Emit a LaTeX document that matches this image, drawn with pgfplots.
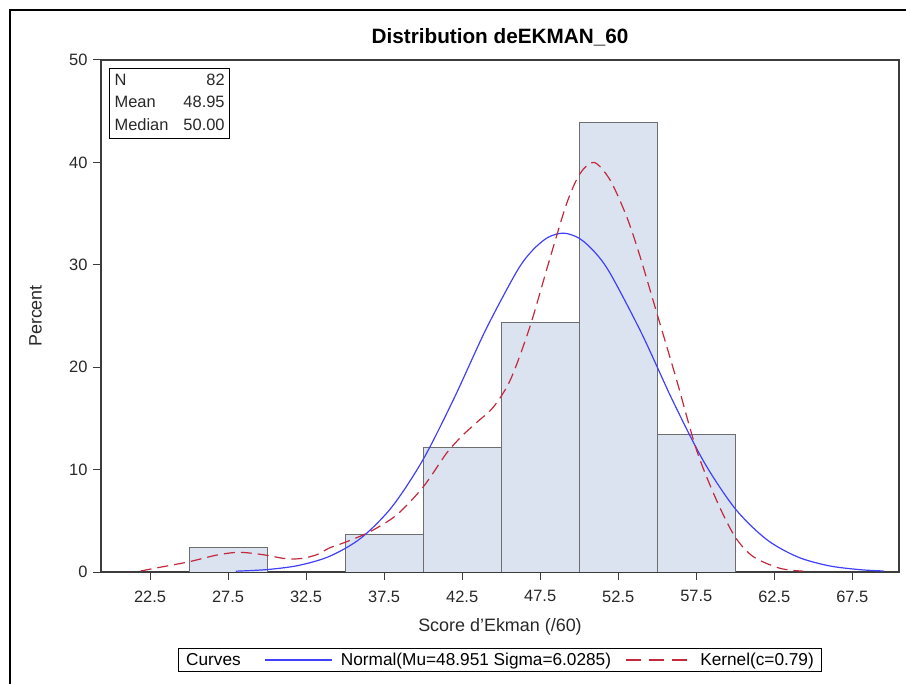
\documentclass[border=0pt]{standalone}
\usepackage{fontspec}
\setmainfont{Liberation Sans}
\usepackage{pgfplots}
\pgfplotsset{compat=1.18}

\definecolor{barfill}{RGB}{219,227,240}
\definecolor{baredge}{RGB}{110,110,110}
\definecolor{normblue}{RGB}{64,64,250}
\definecolor{kernred}{RGB}{195,40,60}
\definecolor{axgray}{RGB}{60,60,60}
\definecolor{txtgray}{RGB}{40,40,40}

\pgfplotsset{
  legline/.style={legend image code/.code={\draw[##1] (0bp,0bp) -- (#1,0bp);}},
}

\begin{document}
\begin{tikzpicture}
\begin{axis}[
  at={(101bp,112bp)}, anchor=south west,
  scale only axis, width=798bp, height=512bp,
  xmin=19.36, xmax=70.49, ymin=0, ymax=50,
  xtick={22.5,27.5,32.5,37.5,42.5,47.5,52.5,57.5,62.5,67.5},
  ytick={0,10,20,30,40,50},
  xtick pos=bottom, ytick pos=left,
  tick align=outside, major tick length=8bp,
  axis line style={draw=axgray, line width=1.2bp},
  tick style={draw=axgray, line width=1bp},
  /pgf/number format/assume math mode=true,
  ticklabel style={font=\fontsize{16.5}{19}\selectfont, text=txtgray},
  xticklabel style={yshift=-7bp},
  yticklabel style={xshift=-2bp},
  title={Distribution deEKMAN\_60},
  title style={at={(axis description cs:0.5,1.0215)}, anchor=base,
    font=\bfseries\fontsize{20.8}{24}\selectfont},
  xlabel={Score d'Ekman (/60)},
  xlabel style={at={(axis description cs:0.5,-0.1074)}, anchor=center,
    font=\fontsize{18}{21}\selectfont, text=txtgray},
  ylabel={Percent},
  ylabel style={at={(axis description cs:-0.0821,0.5)}, anchor=center,
    font=\fontsize{18}{21}\selectfont, text=txtgray},
  legend columns=-1,
  legend style={at={(axis description cs:0.5,-0.1719)}, anchor=center,
    draw=black, line width=1.2bp, inner xsep=6bp, inner ysep=2.5bp,
    font=\fontsize{17.3}{19}\selectfont},
  legend cell align=left,
]
% histogram (percent of 82 obs)
\addplot[ybar interval, fill=barfill, draw=baredge, line width=1bp, forget plot]
  coordinates {(25,2.439) (30,2.439)};
\addplot[ybar interval, fill=barfill, draw=baredge, line width=1bp, forget plot]
  coordinates {(35,3.659) (40,12.195) (45,24.390) (50,43.902) (55,13.415) (60,13.415)};

% normal curve
\addplot[normblue, line width=1.2bp, smooth, forget plot] coordinates {
  (28,0.079) (30,0.237) (32,0.635) (34,1.529) (36,3.293) (38,6.357)
  (40,10.99) (42,17.02) (44,23.62) (46,29.35) (47,31.40) (48,32.68)
  (49,33.09) (50,32.59) (51,31.23) (52,29.12) (54,23.30) (56,16.70)
  (58,10.73) (60,6.17) (62,3.18) (64,1.466) (66,0.607) (68,0.225) (69.5,0.099)
};

% kernel curve
\addplot[kernred, line width=1.2bp, dash pattern=on 11bp off 6bp, smooth, forget plot] coordinates {
  (21.9,0.10) (23.1,0.45) (25.0,1.00) (26.8,1.66) (28.2,1.92) (29.7,1.70)
  (31.2,1.30) (32.2,1.32) (33.2,1.70) (34.0,2.35) (35.0,2.90) (36.6,3.94)
  (38.3,5.57) (40.0,8.30) (41.5,11.6) (42.5,13.3) (43.5,14.7) (44.5,16.1)
  (45.6,18.8) (46.85,24.0) (48.1,30.5) (49.2,36.0) (50.05,38.9) (50.95,40.0)
  (51.97,38.3) (53.04,34.7) (53.9,30.8) (54.97,25.3) (56.24,18.75) (57.52,11.9)
  (58.8,7.0) (59.98,3.45) (61.15,1.5) (62.87,0.36) (64.36,0.08)
};

\addlegendimage{empty legend}
\addlegendentry{Curves\rule{22bp}{0pt}}
\addlegendimage{normblue, line width=1.2bp, legline=67bp}
\addlegendentry{\rule{6bp}{0pt}Normal(Mu=48.951 Sigma=6.0285)\rule{12bp}{0pt}}
\addlegendimage{kernred, line width=1.2bp, dash pattern=on 15bp off 8bp, legline=62bp}
\addlegendentry{\rule{10bp}{0pt}Kernel(c=0.79)}

\node[draw=black, line width=1.2bp, anchor=north west, inner xsep=5bp, inner ysep=1.5bp,
  font=\fontsize{16.5}{22.5}\selectfont, text=txtgray]
  at (rel axis cs:0,1) [xshift=8bp, yshift=-7.7bp]
  {\begin{tabular}{@{}l@{\hspace{15bp}}r@{}}
   N & 82\\
   Mean & 48.95\\
   Median & 50.00
   \end{tabular}};
\end{axis}
\draw[line width=1.5bp, black] (10bp,-20bp) -- (10bp,674bp) -- (930bp,674bp);
\pgfresetboundingbox
\useasboundingbox (0,0) rectangle (906bp,684bp);
\end{tikzpicture}
\end{document}
